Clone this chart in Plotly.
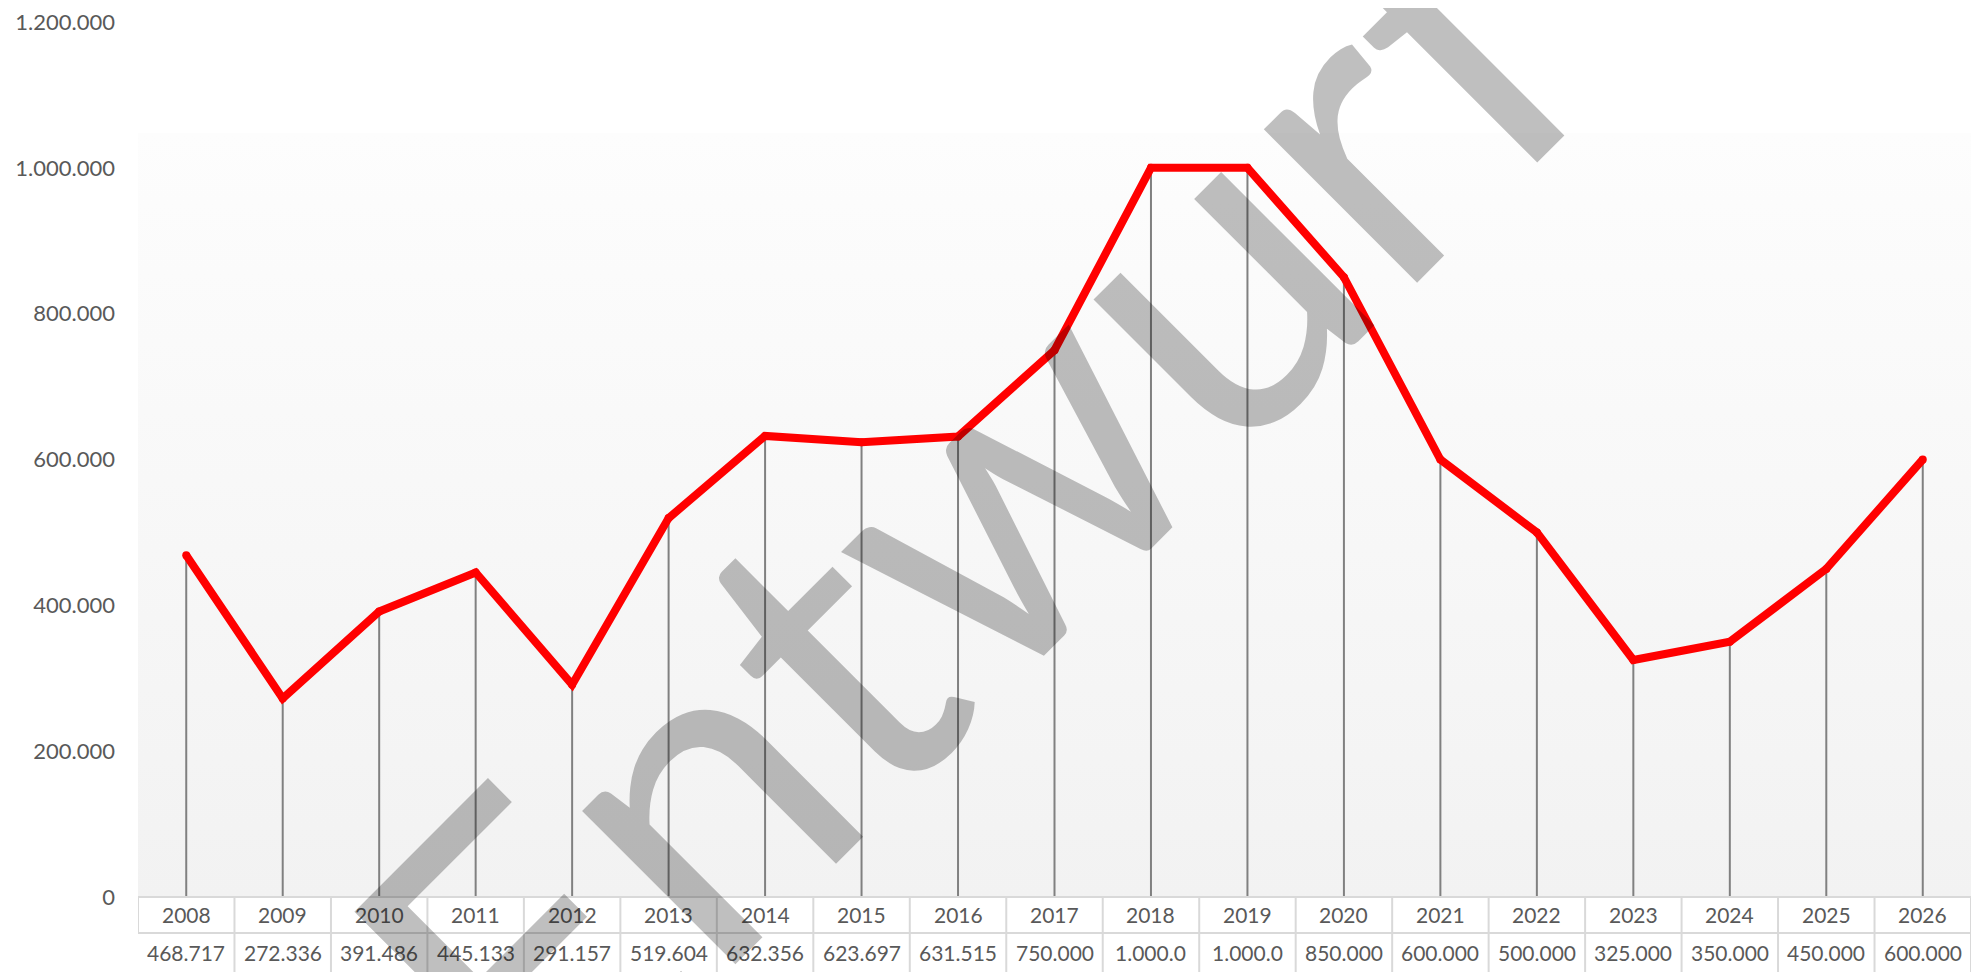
import base64
import plotly.graph_objects as go

years = ["2008", "2009", "2010", "2011", "2012", "2013", "2014", "2015", "2016", "2017",
         "2018", "2019", "2020", "2021", "2022", "2023", "2024", "2025", "2026"]
values = [468717, 272336, 391486, 445133, 291157, 519604, 632356, 623697, 631515, 750000,
          1000000, 1000000, 850000, 600000, 500000, 325000, 350000, 450000, 600000]
y_ticks = [0, 200000, 400000, 600000, 800000, 1000000, 1200000]
watermark = "Entwurf"
cell_chars = 7  # visible characters in a data-table cell

xs = list(range(len(years)))

def de_fmt(v):
    return f"{v:,}".replace(",", ".")

FONT = "Lato, 'Open Sans', sans-serif"
TXT = "#595959"
BORDER = "#d9d9d9"

# page offset of the plot div (default body margin)
OFF = 8
W, H = 1984 - OFF, 972 - OFF
plot_left, plot_right, plot_top, plot_bot = 138, 1971, 22, 897  # screen pixels
plot_h = plot_bot - plot_top
plot_w = plot_right - plot_left

def py(px):
    return (plot_bot - px) / plot_h

def pxp(px):
    return (px - plot_left) / plot_w

fig = go.Figure()

# drop lines (from each value down to the axis)
fig.add_trace(go.Scatter(
    x=xs, y=values, mode="markers", marker=dict(size=0.1, color="rgba(0,0,0,0)"),
    error_y=dict(type="data", symmetric=False, array=[0] * len(values), arrayminus=values,
                 color="#808080", thickness=2, width=0),
    hoverinfo="skip", showlegend=False))

# main line
fig.add_trace(go.Scatter(
    x=xs, y=values, mode="lines+markers",
    line=dict(color="#ff0000", width=8),
    marker=dict(color="#ff0000", size=8),
    showlegend=False))

# gradient background of plot area
svg = ('<svg xmlns="http://www.w3.org/2000/svg" width="100" height="100" preserveAspectRatio="none">'
       '<defs><linearGradient id="g" x1="0" y1="0" x2="0" y2="1">'
       '<stop offset="0" stop-color="#fdfdfd"/><stop offset="1" stop-color="#f2f2f2"/>'
       '</linearGradient></defs><rect width="100" height="100" fill="url(#g)"/></svg>')
src = "data:image/svg+xml;base64," + base64.b64encode(svg.encode()).decode()

fig.add_layout_image(dict(source=src, xref="paper", yref="paper", x=0, y=py(133),
                          sizex=1, sizey=py(133), xanchor="left", yanchor="top",
                          sizing="stretch", layer="below"))

# data table
row1_bot = py(933)
row2_bot = py(990)
key_left = -0.5 - (plot_left - 127) / (plot_w / len(years))
shapes = []
n = len(years)
shapes.append(dict(type="line", xref="x", yref="paper", x0=-0.5, x1=n - 0.5, y0=0, y1=0,
                   line=dict(color=BORDER, width=2)))
shapes.append(dict(type="line", xref="x", yref="paper", x0=key_left, x1=n - 0.5, y0=row1_bot, y1=row1_bot,
                   line=dict(color=BORDER, width=2)))
for i in range(n + 1):
    shapes.append(dict(type="line", xref="x", yref="paper", x0=i - 0.5, x1=i - 0.5,
                       y0=0, y1=row2_bot if i > 0 else row1_bot,
                       line=dict(color=BORDER, width=2)))
shapes.append(dict(type="line", xref="x", yref="paper", x0=key_left, x1=key_left, y0=row1_bot, y1=row2_bot,
                   line=dict(color=BORDER, width=2)))

annotations = []
for i, (yr, v) in enumerate(zip(years, values)):
    annotations.append(dict(x=i, y=py(915), xref="x", yref="paper", text=yr, showarrow=False,
                            font=dict(family=FONT, size=21, color=TXT), xanchor="center", yanchor="middle"))
    annotations.append(dict(x=i, y=py(952), xref="x", yref="paper", text=de_fmt(v)[:cell_chars],
                            showarrow=False, font=dict(family=FONT, size=21, color=TXT),
                            xanchor="center", yanchor="middle"))

# watermark
annotations.append(dict(x=pxp(960), y=py(505), xref="paper", yref="paper", text=watermark,
                        showarrow=False, textangle=-45,
                        font=dict(family=FONT, size=428, color="rgba(0,0,0,0.25)"),
                        xanchor="center", yanchor="middle"))

fig.update_layout(
    width=W, height=H,
    margin=dict(l=plot_left - OFF, r=W - (plot_right - OFF), t=plot_top - OFF, b=H - (plot_bot - OFF)),
    paper_bgcolor="white", plot_bgcolor="rgba(0,0,0,0)",
    separators=",.",
    shapes=shapes, annotations=annotations,
    xaxis=dict(range=[-0.5, n - 0.5], showticklabels=False, showgrid=False, zeroline=False,
               showline=False, ticks=""),
    yaxis=dict(range=[0, 1200000], tickvals=y_ticks, tickformat=",d", showgrid=False,
               zeroline=False, showline=False, ticks="", ticklabelstandoff=22, automargin=False,
               ticklabeloverflow="allow",
               tickfont=dict(family=FONT, size=22, color=TXT)),
    showlegend=False,
)

fig.write_html("out.html")
